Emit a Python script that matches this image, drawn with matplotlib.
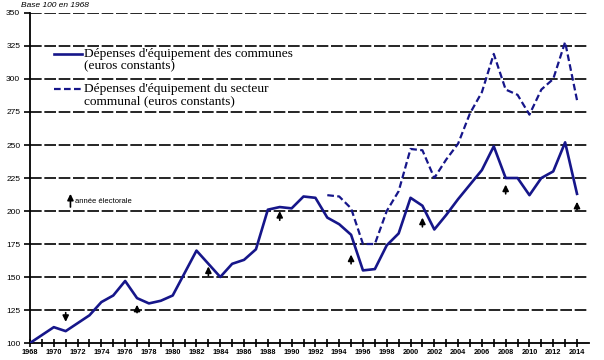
import matplotlib
matplotlib.use("Agg")
import matplotlib.pyplot as plt
from matplotlib.lines import Line2D

NAVY = "#16168a"

years = list(range(1968, 2015))
communes = [100, 106, 112, 109, 115, 121, 131, 136, 147, 134,
            130, 132, 136, 153, 170, 160, 150, 160, 163, 171,
            201, 203, 202, 211, 210, 195, 190, 182, 155, 156,
            174, 183, 210, 204, 186, 197, 209, 220, 231, 249,
            225, 225, 212, 225, 230, 252, 213]

sect_years = list(range(1993, 2015))
secteur = [212, 211, 202, 175, 175, 200, 215, 247, 246, 225,
           239, 251, 274, 290, 319, 292, 288, 273, 292, 300,
           328, 284]

# election-year arrows: (year, tail value, head value)
arrow_years = [1971, 1977, 1983, 1989, 1995, 2001, 2008, 2014]
arrow_tail = [123, 123, 151, 193, 160, 188, 213, 201]
arrow_head = [116, 129, 158, 200, 167, 195, 220, 207]

yticks = list(range(100, 351, 25))
xticks = list(range(1968, 2015, 2))

legend_lines = [
    ("Dépenses d'équipement des communes", "(euros constants)"),
    ("Dépenses d'équipement du secteur", "communal (euros constants)"),
]

fig = plt.figure(figsize=(6.04, 3.6), dpi=100)
ax = fig.add_axes([0.0497, 0.0472, 0.9253, 0.9167])

ax.set_xlim(1968, 2015)
ax.set_ylim(100, 350)

for v in yticks[1:]:
    ax.axhline(v, color="black", lw=1.2, ls=(0, (7, 1.6)), zorder=1)

ax.plot(years, communes, color=NAVY, lw=1.9, zorder=3)
ax.plot(sect_years, secteur, color=NAVY, lw=1.6, ls=(0, (3, 1.5)), zorder=3)

arrow_kw = dict(arrowstyle="-|>", color="black", lw=1.2,
                mutation_scale=9, shrinkA=0, shrinkB=0)
for x, t, h in zip(arrow_years, arrow_tail, arrow_head):
    ax.annotate("", xy=(x, h), xytext=(x, t), arrowprops=arrow_kw, zorder=4)

# legend for arrows
ax.annotate("", xy=(1971.4, 213), xytext=(1971.4, 203), arrowprops=arrow_kw)
ax.text(1971.75, 207, "année électorale", fontsize=5.5, family="Liberation Sans",
        va="center", ha="left")

# hand-drawn legend, handle aligned with the first text line
styles = ["-", (0, (3, 1.5))]
lw_leg = [1.9, 1.6]
for i, ((l1, l2), st, lw) in enumerate(zip(legend_lines, styles, lw_leg)):
    yf = 0.876 - i * 0.107
    ax.add_line(Line2D([0.043, 0.093], [yf, yf], transform=ax.transAxes,
                       color=NAVY, lw=lw, ls=st, zorder=5))
    ax.text(0.0966, yf, l1, transform=ax.transAxes, fontsize=9.6,
            family="Liberation Serif", va="center", ha="left")
    ax.text(0.0966, yf - 0.037, l2, transform=ax.transAxes, fontsize=9.6,
            family="Liberation Serif", va="center", ha="left")

ax.set_yticks(yticks)
ax.set_yticklabels([str(v) for v in yticks], fontsize=6,
                   family="Liberation Sans")
ax.set_xticks(xticks)
ax.set_xticklabels([str(v) for v in xticks], fontsize=5.3, fontweight="bold",
                   family="Liberation Sans")
ax.set_xticks(list(range(1969, 2015, 2)), minor=True)
ax.tick_params(axis="x", which="both", direction="inout", length=6, width=1.2, pad=1.5)
ax.tick_params(axis="y", direction="out", length=4.5, width=1.2, pad=2.5)

for s in ["top", "right"]:
    ax.spines[s].set_visible(False)
ax.spines["left"].set_linewidth(1.3)
ax.spines["bottom"].set_linewidth(1.3)

fig.text(0.035, 0.995, "Base 100 en 1968", fontsize=6, style="italic",
         family="Liberation Sans", va="top", ha="left")

fig.savefig("out.png", dpi=100)
